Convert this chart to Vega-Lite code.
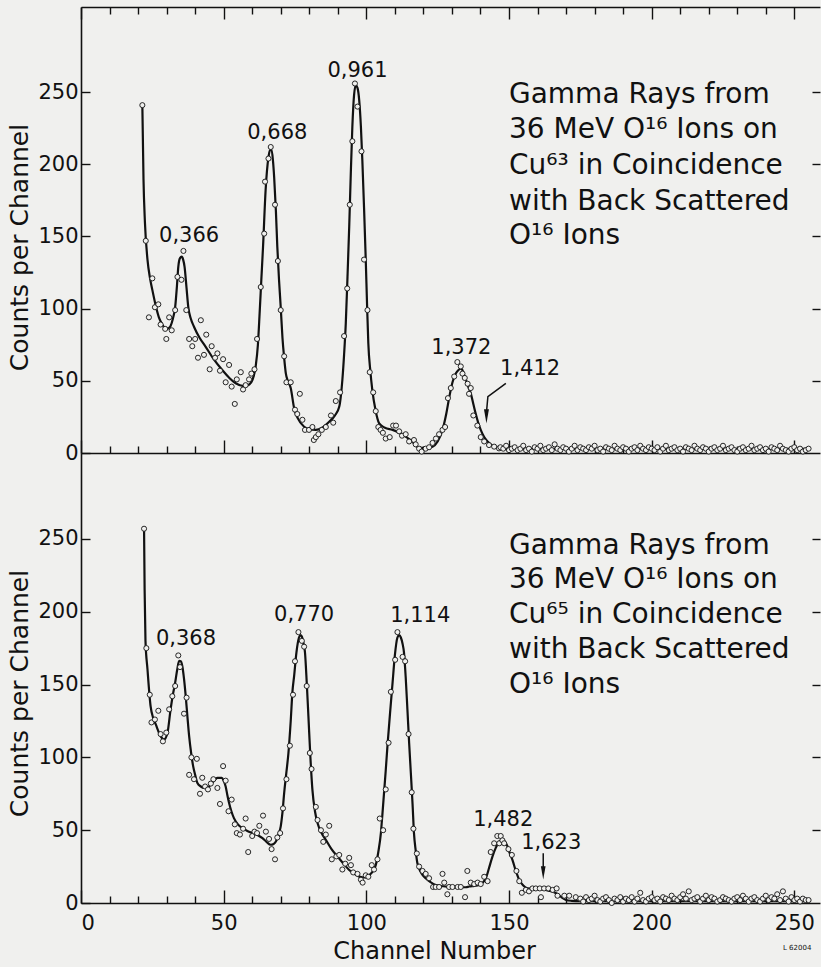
{
  "$schema": "https://vega.github.io/schema/vega-lite/v6.json",
  "background": "#f0f0ee",
  "padding": {"left": 7, "top": 6, "right": 0, "bottom": 5},
  "config": {
    "view": {"stroke": null},
    "axis": {"domainColor": "#111", "domainWidth": 1.6, "tickColor": "#111", "tickWidth": 1.4, "labelFont": "DejaVu Sans", "titleFont": "DejaVu Sans", "labelColor": "#111", "titleColor": "#111", "titleFontWeight": "normal", "grid": false, "labelFontSize": 21},
    "text": {"font": "DejaVu Sans", "color": "#111"}
  },
  "datasets": {
    "top_line": [
      {"ch":21.5,"v":241},{"ch":21.9,"v":190},{"ch":22.4,"v":160},{"ch":23.3,"v":134},{"ch":24.2,"v":121},{"ch":25,"v":113},{"ch":26.2,"v":102},{"ch":27.3,"v":94},{"ch":28.5,"v":89},{"ch":29.7,"v":86},{"ch":30.7,"v":86.5},{"ch":31.4,"v":88},{"ch":32.2,"v":93},{"ch":33,"v":101},{"ch":33.6,"v":115},{"ch":34.1,"v":129},{"ch":34.7,"v":135},{"ch":35.3,"v":136},{"ch":35.8,"v":134},{"ch":36.3,"v":129},{"ch":37,"v":114},{"ch":37.6,"v":101},{"ch":38.5,"v":93},{"ch":39.6,"v":87.5},{"ch":41.5,"v":80},{"ch":43.7,"v":73.6},{"ch":46.5,"v":65},{"ch":49.5,"v":57.5},{"ch":52,"v":52},{"ch":54.2,"v":48.3},{"ch":57.1,"v":46.4},{"ch":59,"v":47.5},{"ch":60.1,"v":50.6},{"ch":61.2,"v":59.8},{"ch":62,"v":75},{"ch":62.6,"v":96.7},{"ch":63.2,"v":120},{"ch":63.8,"v":142.9},{"ch":64.7,"v":182},{"ch":65.7,"v":205},{"ch":66.3,"v":210},{"ch":66.8,"v":210},{"ch":67.3,"v":202},{"ch":67.7,"v":191},{"ch":68.3,"v":168},{"ch":68.8,"v":143},{"ch":69.4,"v":120},{"ch":70,"v":101},{"ch":70.6,"v":80},{"ch":71.2,"v":66},{"ch":71.8,"v":55},{"ch":72.5,"v":50},{"ch":73.5,"v":45},{"ch":74.7,"v":31},{"ch":76,"v":24},{"ch":78.2,"v":18.2},{"ch":80,"v":16.5},{"ch":82.3,"v":16},{"ch":84.5,"v":17.5},{"ch":87,"v":21.7},{"ch":89,"v":26},{"ch":90.5,"v":32},{"ch":91.1,"v":40},{"ch":91.6,"v":50.6},{"ch":92.2,"v":68},{"ch":92.8,"v":89.8},{"ch":93.4,"v":122},{"ch":94,"v":156.7},{"ch":94.5,"v":190},{"ch":95.1,"v":226},{"ch":95.7,"v":248},{"ch":96.3,"v":254.8},{"ch":96.9,"v":253},{"ch":97.5,"v":244.5},{"ch":98.1,"v":226},{"ch":98.6,"v":203},{"ch":99.2,"v":170},{"ch":99.8,"v":133.7},{"ch":100.3,"v":100},{"ch":100.7,"v":76},{"ch":101.4,"v":57},{"ch":102.1,"v":43.6},{"ch":103.2,"v":30},{"ch":104.5,"v":20.5},{"ch":106.5,"v":17.5},{"ch":109.2,"v":16},{"ch":111.5,"v":14},{"ch":113.8,"v":11.3},{"ch":116,"v":8},{"ch":118.5,"v":3.5},{"ch":121,"v":3.5},{"ch":123.2,"v":4.4},{"ch":125,"v":8},{"ch":126.7,"v":16},{"ch":128,"v":27},{"ch":129.1,"v":39},{"ch":130.2,"v":49},{"ch":131.4,"v":55.2},{"ch":132.3,"v":57.5},{"ch":133.3,"v":58.6},{"ch":134.1,"v":55},{"ch":134.9,"v":50.6},{"ch":135.7,"v":46},{"ch":136.6,"v":41.3},{"ch":137.5,"v":34},{"ch":138.3,"v":27.5},{"ch":139.2,"v":21},{"ch":140.1,"v":16},{"ch":141.3,"v":11},{"ch":142.5,"v":7.9},{"ch":144.5,"v":4.5},{"ch":146.5,"v":3.2},{"ch":150,"v":2.8},{"ch":180,"v":2.8},{"ch":220,"v":2.8},{"ch":255,"v":2.8}
    ],
    "top_pts": [
      {"ch":21.5,"v":241},{"ch":22.7,"v":147},{"ch":23.8,"v":94},{"ch":25,"v":121},{"ch":25.9,"v":101},{"ch":27.1,"v":103},{"ch":27.9,"v":89},{"ch":29.5,"v":86},{"ch":29.9,"v":79},{"ch":30.9,"v":94},{"ch":31.8,"v":85},{"ch":33,"v":99},{"ch":33.8,"v":122},{"ch":35.2,"v":120},{"ch":35.9,"v":140},{"ch":36.9,"v":99},{"ch":37.9,"v":79},{"ch":39,"v":74},{"ch":40,"v":79},{"ch":41,"v":66},{"ch":42,"v":92},{"ch":43.1,"v":68},{"ch":43.9,"v":82},{"ch":45.1,"v":58},{"ch":45.8,"v":74},{"ch":47,"v":66},{"ch":47.8,"v":69},{"ch":48.7,"v":57},{"ch":49.8,"v":65},{"ch":50.7,"v":49},{"ch":51.9,"v":61},{"ch":52.8,"v":46},{"ch":53.9,"v":34},{"ch":54.6,"v":51},{"ch":56,"v":56},{"ch":56.8,"v":44},{"ch":57.7,"v":47},{"ch":58.9,"v":51},{"ch":59.7,"v":55},{"ch":60.8,"v":58},{"ch":61.7,"v":79},{"ch":63,"v":115},{"ch":64.2,"v":152},{"ch":64.5,"v":188},{"ch":65.7,"v":204},{"ch":66.5,"v":212},{"ch":68,"v":172},{"ch":69,"v":133},{"ch":70,"v":99},{"ch":71.2,"v":67},{"ch":72,"v":49},{"ch":73.5,"v":49},{"ch":75,"v":30},{"ch":75.8,"v":27},{"ch":76.7,"v":41},{"ch":77.6,"v":23},{"ch":78.5,"v":16},{"ch":79.9,"v":16},{"ch":81.1,"v":18},{"ch":81.6,"v":9},{"ch":82.3,"v":11},{"ch":83.2,"v":13},{"ch":84.4,"v":16},{"ch":85.8,"v":18},{"ch":87.6,"v":26},{"ch":88.4,"v":21},{"ch":89.3,"v":36},{"ch":90.8,"v":42},{"ch":92.2,"v":81},{"ch":93.3,"v":114},{"ch":94.2,"v":172},{"ch":95.1,"v":216},{"ch":96,"v":256},{"ch":96.9,"v":240},{"ch":98.3,"v":209},{"ch":99.2,"v":134},{"ch":100.4,"v":99},{"ch":101.2,"v":56},{"ch":102.4,"v":42},{"ch":103.3,"v":29},{"ch":104.2,"v":18},{"ch":105,"v":16},{"ch":105.8,"v":14},{"ch":106.8,"v":10},{"ch":108.2,"v":11},{"ch":109.4,"v":19},{"ch":110.4,"v":19},{"ch":111.5,"v":15},{"ch":112.5,"v":12},{"ch":113.8,"v":13},{"ch":115,"v":8},{"ch":116.7,"v":9},{"ch":117.3,"v":6},{"ch":118.5,"v":3},{"ch":119.4,"v":1},{"ch":120.8,"v":3},{"ch":122,"v":4},{"ch":123.2,"v":7},{"ch":124.4,"v":10},{"ch":125.5,"v":13},{"ch":126.7,"v":16},{"ch":127.6,"v":18},{"ch":128.6,"v":38},{"ch":129.6,"v":45},{"ch":130.8,"v":53},{"ch":131.9,"v":63},{"ch":133.1,"v":60},{"ch":133.7,"v":55},{"ch":134.5,"v":52},{"ch":135.5,"v":48},{"ch":136,"v":41},{"ch":136.6,"v":45},{"ch":137.5,"v":26},{"ch":138.9,"v":19},{"ch":140.1,"v":11},{"ch":141.3,"v":8},{"ch":143,"v":5.5},{"ch":144.8,"v":4.4},{"ch":146.5,"v":3.2},
      {"ch":147,"v":4},{"ch":148,"v":3},{"ch":149,"v":5},{"ch":150,"v":2},{"ch":151,"v":3},{"ch":152,"v":4},{"ch":153,"v":2},{"ch":154,"v":3},{"ch":155,"v":5},{"ch":156,"v":2},{"ch":157,"v":3},{"ch":158,"v":1},{"ch":159,"v":4},{"ch":160,"v":3},{"ch":161,"v":5},{"ch":162,"v":2},{"ch":163,"v":3},{"ch":164,"v":4},{"ch":165,"v":2},{"ch":166,"v":6},{"ch":167,"v":3},{"ch":168,"v":2},{"ch":169,"v":4},{"ch":170,"v":3},{"ch":171,"v":1},{"ch":172,"v":3},{"ch":173,"v":5},{"ch":174,"v":2},{"ch":175,"v":4},{"ch":176,"v":3},{"ch":177,"v":2},{"ch":178,"v":4},{"ch":179,"v":3},{"ch":180,"v":5},{"ch":181,"v":2},{"ch":182,"v":3},{"ch":183,"v":1},{"ch":184,"v":4},{"ch":185,"v":3},{"ch":186,"v":2},{"ch":187,"v":5},{"ch":188,"v":3},{"ch":189,"v":2},{"ch":190,"v":4},{"ch":191,"v":3},{"ch":192,"v":1},{"ch":193,"v":3},{"ch":194,"v":4},{"ch":195,"v":2},{"ch":196,"v":5},{"ch":197,"v":3},{"ch":198,"v":2},{"ch":199,"v":4},{"ch":200,"v":3},{"ch":201,"v":2},{"ch":202,"v":4},{"ch":203,"v":1},{"ch":204,"v":3},{"ch":205,"v":5},{"ch":206,"v":2},{"ch":207,"v":3},{"ch":208,"v":4},{"ch":209,"v":2},{"ch":210,"v":3},{"ch":211,"v":1},{"ch":212,"v":4},{"ch":213,"v":3},{"ch":214,"v":2},{"ch":215,"v":5},{"ch":216,"v":3},{"ch":217,"v":2},{"ch":218,"v":4},{"ch":219,"v":3},{"ch":220,"v":1},{"ch":221,"v":3},{"ch":222,"v":4},{"ch":223,"v":2},{"ch":224,"v":3},{"ch":225,"v":5},{"ch":226,"v":2},{"ch":227,"v":3},{"ch":228,"v":4},{"ch":229,"v":2},{"ch":230,"v":1},{"ch":231,"v":3},{"ch":232,"v":4},{"ch":233,"v":2},{"ch":234,"v":3},{"ch":235,"v":5},{"ch":236,"v":2},{"ch":237,"v":3},{"ch":238,"v":4},{"ch":239,"v":2},{"ch":240,"v":3},{"ch":241,"v":1},{"ch":242,"v":4},{"ch":243,"v":3},{"ch":244,"v":2},{"ch":245,"v":5},{"ch":246,"v":3},{"ch":247,"v":2},{"ch":248,"v":1},{"ch":249,"v":3},{"ch":250,"v":4},{"ch":251,"v":2},{"ch":252,"v":3},{"ch":253,"v":1},{"ch":254,"v":2},{"ch":255,"v":3}
    ],
    "bot_line": [
      {"ch":22.1,"v":257},{"ch":22.3,"v":215},{"ch":22.6,"v":180},{"ch":23.3,"v":160.5},{"ch":24.4,"v":135},{"ch":25.3,"v":127},{"ch":26.2,"v":122.6},{"ch":27.9,"v":114.6},{"ch":29.1,"v":112.3},{"ch":30.3,"v":116.8},{"ch":31.4,"v":133},{"ch":32.2,"v":143},{"ch":33,"v":151.3},{"ch":33.7,"v":160},{"ch":34.4,"v":166.2},{"ch":35,"v":166},{"ch":35.5,"v":162.7},{"ch":36.1,"v":154},{"ch":36.7,"v":142},{"ch":37.3,"v":128},{"ch":37.9,"v":114.6},{"ch":38.6,"v":103},{"ch":39.3,"v":94},{"ch":40,"v":88},{"ch":40.8,"v":82.4},{"ch":42,"v":80},{"ch":43.1,"v":79},{"ch":44.5,"v":79.5},{"ch":46,"v":82.4},{"ch":47.8,"v":85.9},{"ch":49.3,"v":85.9},{"ch":50,"v":84},{"ch":50.7,"v":80},{"ch":51.3,"v":74},{"ch":51.9,"v":68.6},{"ch":52.7,"v":63},{"ch":53.6,"v":58.3},{"ch":55,"v":54},{"ch":56.6,"v":51.4},{"ch":58.3,"v":49.5},{"ch":60.1,"v":48},{"ch":62,"v":46.5},{"ch":63.6,"v":44.5},{"ch":65,"v":42},{"ch":66.5,"v":40},{"ch":67.5,"v":40.5},{"ch":68.3,"v":42.2},{"ch":69.4,"v":48},{"ch":70,"v":52.6},{"ch":70.6,"v":62},{"ch":71.2,"v":75.5},{"ch":72,"v":90},{"ch":72.7,"v":103},{"ch":73.5,"v":125},{"ch":74.1,"v":145},{"ch":74.7,"v":156},{"ch":75.5,"v":172},{"ch":76.4,"v":182.3},{"ch":76.9,"v":184},{"ch":77.4,"v":183},{"ch":78,"v":178},{"ch":78.5,"v":172},{"ch":79.1,"v":152},{"ch":79.7,"v":128.3},{"ch":80.4,"v":100},{"ch":81.1,"v":77.8},{"ch":82,"v":63},{"ch":82.9,"v":54.9},{"ch":84.3,"v":48},{"ch":85.8,"v":43.4},{"ch":87.8,"v":37},{"ch":89.9,"v":31.9},{"ch":92,"v":27},{"ch":94,"v":22.7},{"ch":95.8,"v":20},{"ch":97.5,"v":18.1},{"ch":99,"v":17.5},{"ch":100.4,"v":18.1},{"ch":101.5,"v":20},{"ch":102.5,"v":22.5},{"ch":103.3,"v":26},{"ch":104.2,"v":35},{"ch":105.1,"v":48},{"ch":105.6,"v":60},{"ch":106.2,"v":75.5},{"ch":106.8,"v":91},{"ch":107.4,"v":107.7},{"ch":108.3,"v":130},{"ch":109.2,"v":151.3},{"ch":110,"v":170},{"ch":110.9,"v":182.3},{"ch":111.5,"v":184},{"ch":112.1,"v":182.3},{"ch":112.7,"v":178},{"ch":113.2,"v":172},{"ch":113.8,"v":155},{"ch":114.4,"v":132.9},{"ch":115,"v":110},{"ch":115.6,"v":89.3},{"ch":116.2,"v":68},{"ch":116.7,"v":48},{"ch":117.3,"v":36},{"ch":117.9,"v":27.3},{"ch":119.3,"v":20.5},{"ch":120.8,"v":17},{"ch":122.5,"v":14.3},{"ch":124.3,"v":12.4},{"ch":127,"v":11.5},{"ch":130.2,"v":10.8},{"ch":134.9,"v":10.8},{"ch":136,"v":11.3},{"ch":137.8,"v":11.8},{"ch":139.5,"v":12.4},{"ch":140.8,"v":14},{"ch":141.9,"v":17},{"ch":143,"v":24},{"ch":144.2,"v":31.9},{"ch":145.4,"v":38},{"ch":146.6,"v":42.2},{"ch":147.7,"v":43.4},{"ch":148.6,"v":42},{"ch":149.5,"v":38.8},{"ch":150.3,"v":34},{"ch":151.2,"v":29.6},{"ch":152.4,"v":22},{"ch":153.6,"v":15.8},{"ch":155,"v":12},{"ch":156.5,"v":10.1},{"ch":159,"v":9.6},{"ch":161.8,"v":9.4},{"ch":164,"v":8.5},{"ch":166.5,"v":6.7},{"ch":168,"v":4.5},{"ch":170,"v":2.1},{"ch":172,"v":1.5},{"ch":175,"v":1.2},{"ch":200,"v":1.2},{"ch":230,"v":1.2},{"ch":255,"v":1.2}
    ],
    "bot_pts": [
      {"ch":22.1,"v":257},{"ch":22.9,"v":175},{"ch":24.1,"v":143},{"ch":24.7,"v":124},{"ch":25.9,"v":126},{"ch":27.1,"v":132},{"ch":27.9,"v":116},{"ch":28.7,"v":111},{"ch":29.9,"v":117},{"ch":30.9,"v":133},{"ch":32,"v":142},{"ch":33,"v":149},{"ch":34.1,"v":170},{"ch":34.7,"v":162},{"ch":36.1,"v":130},{"ch":37,"v":141},{"ch":37.9,"v":88},{"ch":38.7,"v":100},{"ch":39.6,"v":85},{"ch":40.6,"v":99},{"ch":41.7,"v":75},{"ch":42.5,"v":86},{"ch":43.5,"v":80},{"ch":44.5,"v":78},{"ch":45.5,"v":82},{"ch":46.4,"v":85},{"ch":47.8,"v":79},{"ch":48.7,"v":68},{"ch":49.8,"v":94},{"ch":50.7,"v":84},{"ch":51.7,"v":63},{"ch":52.8,"v":71},{"ch":53.9,"v":54},{"ch":54.6,"v":48},{"ch":55.7,"v":47},{"ch":56.8,"v":51},{"ch":57.7,"v":58},{"ch":58.6,"v":35},{"ch":60,"v":46},{"ch":60.8,"v":49},{"ch":61.7,"v":48},{"ch":62.5,"v":53},{"ch":63.8,"v":60},{"ch":64.8,"v":49},{"ch":65.9,"v":44},{"ch":66.8,"v":37},{"ch":68,"v":30},{"ch":68.8,"v":45},{"ch":69.8,"v":48},{"ch":70.8,"v":65},{"ch":72,"v":85},{"ch":73.2,"v":108},{"ch":74.3,"v":143},{"ch":75,"v":166},{"ch":76.2,"v":186},{"ch":77.4,"v":180},{"ch":78.2,"v":176},{"ch":79.1,"v":149},{"ch":80.2,"v":103},{"ch":80.8,"v":92},{"ch":82.3,"v":66},{"ch":82.9,"v":57},{"ch":84.1,"v":50},{"ch":84.9,"v":42},{"ch":85.8,"v":47},{"ch":87,"v":53},{"ch":87.9,"v":30},{"ch":89.5,"v":32},{"ch":90.5,"v":33},{"ch":91.6,"v":23},{"ch":92.6,"v":27},{"ch":94,"v":31},{"ch":94.6,"v":26},{"ch":95.4,"v":21},{"ch":96.9,"v":20},{"ch":98.1,"v":16},{"ch":98.7,"v":14},{"ch":99.8,"v":19},{"ch":100.7,"v":18},{"ch":101.9,"v":26},{"ch":102.7,"v":23},{"ch":103.9,"v":30},{"ch":104.7,"v":58},{"ch":105.9,"v":50},{"ch":106.8,"v":78},{"ch":107.8,"v":110},{"ch":108.6,"v":145},{"ch":110.1,"v":167},{"ch":110.9,"v":186},{"ch":112.7,"v":169},{"ch":113.6,"v":166},{"ch":114.8,"v":116},{"ch":115.9,"v":76},{"ch":116.5,"v":51},{"ch":117.7,"v":34},{"ch":118.5,"v":25},{"ch":119.7,"v":22},{"ch":120.8,"v":20},{"ch":122,"v":17},{"ch":123.4,"v":11},{"ch":124.3,"v":11},{"ch":125.5,"v":11},{"ch":126.7,"v":20},{"ch":127.3,"v":14},{"ch":128.4,"v":6},{"ch":129,"v":11},{"ch":130.2,"v":11},{"ch":132,"v":11},{"ch":133.1,"v":11},{"ch":134.6,"v":4},{"ch":135.4,"v":22},{"ch":136.6,"v":14},{"ch":137.8,"v":13},{"ch":139,"v":14},{"ch":140.1,"v":13},{"ch":141.3,"v":18},{"ch":142.5,"v":15},{"ch":143.6,"v":35},{"ch":144.8,"v":41},{"ch":145.9,"v":46},{"ch":146.6,"v":41},{"ch":147.1,"v":46},{"ch":147.7,"v":43},{"ch":148.3,"v":41},{"ch":149.8,"v":37},{"ch":151,"v":33},{"ch":152.6,"v":22},{"ch":153.6,"v":15},{"ch":154.5,"v":7},{"ch":155.9,"v":9},{"ch":157,"v":8},{"ch":158.2,"v":10},{"ch":159.4,"v":10},{"ch":160.8,"v":10},{"ch":161.2,"v":4},{"ch":162.3,"v":10},{"ch":163.8,"v":10},{"ch":165.3,"v":9},{"ch":166.7,"v":10},{"ch":167,"v":5},{"ch":169.4,"v":5},{"ch":171.1,"v":5},{"ch":173.4,"v":4},
      {"ch":175,"v":3},{"ch":176,"v":1},{"ch":177,"v":4},{"ch":178,"v":2},{"ch":179,"v":3},{"ch":180,"v":5},{"ch":181,"v":2},{"ch":182,"v":1},{"ch":183,"v":3},{"ch":184,"v":4},{"ch":185,"v":2},{"ch":186,"v":0},{"ch":187,"v":3},{"ch":188,"v":2},{"ch":189,"v":4},{"ch":190,"v":1},{"ch":191,"v":3},{"ch":192,"v":2},{"ch":193,"v":4},{"ch":194,"v":1},{"ch":195,"v":3},{"ch":196,"v":7},{"ch":197,"v":2},{"ch":198,"v":1},{"ch":199,"v":3},{"ch":200,"v":4},{"ch":201,"v":2},{"ch":202,"v":3},{"ch":203,"v":1},{"ch":204,"v":4},{"ch":205,"v":3},{"ch":206,"v":2},{"ch":207,"v":5},{"ch":208,"v":3},{"ch":209,"v":2},{"ch":210,"v":4},{"ch":211,"v":6},{"ch":212,"v":3},{"ch":213,"v":8},{"ch":214,"v":2},{"ch":215,"v":3},{"ch":216,"v":4},{"ch":217,"v":1},{"ch":218,"v":3},{"ch":219,"v":5},{"ch":220,"v":2},{"ch":221,"v":4},{"ch":222,"v":3},{"ch":223,"v":1},{"ch":224,"v":2},{"ch":225,"v":4},{"ch":226,"v":3},{"ch":227,"v":2},{"ch":228,"v":1},{"ch":229,"v":3},{"ch":230,"v":4},{"ch":231,"v":2},{"ch":232,"v":5},{"ch":233,"v":3},{"ch":234,"v":1},{"ch":235,"v":3},{"ch":236,"v":4},{"ch":237,"v":2},{"ch":238,"v":1},{"ch":239,"v":3},{"ch":240,"v":5},{"ch":241,"v":2},{"ch":242,"v":4},{"ch":243,"v":3},{"ch":244,"v":6},{"ch":245,"v":2},{"ch":246,"v":8},{"ch":247,"v":3},{"ch":248,"v":1},{"ch":249,"v":4},{"ch":250,"v":2},{"ch":251,"v":3},{"ch":252,"v":1},{"ch":253,"v":3},{"ch":254,"v":2},{"ch":255,"v":2}
    ],
    "top_lab": [
      {"ch":37.9,"v":150,"t":"0,366"},{"ch":68.8,"v":222,"t":"0,668"},{"ch":96.9,"v":265,"t":"0,961"},{"ch":133.3,"v":73,"t":"1,372"},{"ch":157.4,"v":58,"t":"1,412"}
    ],
    "bot_lab": [
      {"ch":36.8,"v":181,"t":"0,368"},{"ch":78.2,"v":198,"t":"0,770"},{"ch":118.9,"v":197,"t":"1,114"},{"ch":148,"v":57,"t":"1,482"},{"ch":164.8,"v":41,"t":"1,623"}
    ],
    "top_note": [
      {"ch":150,"v":248,"t":"Gamma Rays from"},{"ch":150,"v":224,"t":"36 MeV  O¹⁶ Ions on"},{"ch":150,"v":199,"t":"Cu⁶³ in Coincidence"},{"ch":150,"v":174,"t":"with Back Scattered"},{"ch":150,"v":150,"t":"O¹⁶ Ions"}
    ],
    "bot_note": [
      {"ch":150,"v":245,"t":"Gamma Rays from"},{"ch":150,"v":222,"t":"36 MeV  O¹⁶ Ions on"},{"ch":150,"v":198,"t":"Cu⁶⁵ in Coincidence"},{"ch":150,"v":174,"t":"with Back Scattered"},{"ch":150,"v":150,"t":"O¹⁶ Ions"}
    ],
    "top_arrow": [{"ch":148.9,"v":48.3},{"ch":142.6,"v":39},{"ch":142.1,"v":28}],
    "top_head": [{"ch":142.1,"v":25.4}],
    "bot_arrow": [{"ch":162,"v":34.2},{"ch":162,"v":23}],
    "bot_head": [{"ch":162,"v":20.7}],
    "code": [{"ch":251,"v":-31,"t":"L 62004"}]
  },
  "vconcat": [
    {
      "width": 739,
      "height": 446,
      "layer": [
        {
          "data": {"name": "top_line"},
          "mark": {"type": "line", "color": "#111", "strokeWidth": 2.2, "interpolate": "monotone"},
          "encoding": {
            "x": {"field": "ch", "type": "quantitative", "scale": {"domain": [0, 259], "nice": false}, "axis": {"orient": "bottom", "values": [0,10,20,30,40,50,60,70,80,90,100,110,120,130,140,150,160,170,180,190,200,210,220,230,240,250], "labels": false, "title": null, "tickSize": {"condition": {"test": "datum.value % 50 === 0", "value": -13}, "value": -7}}},
            "y": {"field": "v", "type": "quantitative", "scale": {"domain": [0, 309], "nice": false}, "axis": {"orient": "left", "values": [0,50,100,150,200,250], "tickSize": -9, "labelPadding": 12, "title": "Counts per Channel", "titleFontSize": 25, "titlePadding": 5, "titleY": 240}}
          }
        },
        {
          "data": {"name": "top_pts"},
          "mark": {"type": "point", "shape": "circle", "size": 26, "stroke": "#111", "strokeWidth": 0.9, "fill": "#f0f0ee", "filled": false, "fillOpacity": 1},
          "encoding": {
            "x": {"field": "ch", "type": "quantitative", "scale": {"domain": [0, 259], "nice": false}, "axis": {"orient": "top", "values": [0,10,20,30,40,50,60,70,80,90,100,110,120,130,140,150,160,170,180,190,200,210,220,230,240,250], "labels": false, "title": null, "tickSize": {"condition": {"test": "datum.value % 50 === 0", "value": -12}, "value": -7}}},
            "y": {"field": "v", "type": "quantitative", "scale": {"domain": [0, 309], "nice": false}, "axis": {"orient": "right", "values": [50,100,150,200,250], "labels": false, "title": null, "domain": false, "tickSize": -8}}
          }
        },
        {
          "data": {"name": "top_lab"},
          "mark": {"type": "text", "fontSize": 21, "align": "center", "baseline": "middle"},
          "encoding": {
            "x": {"field": "ch", "type": "quantitative", "scale": {"domain": [0, 259], "nice": false}, "axis": null},
            "y": {"field": "v", "type": "quantitative", "scale": {"domain": [0, 309], "nice": false}, "axis": null},
            "text": {"field": "t"}
          }
        },
        {
          "data": {"name": "top_note"},
          "mark": {"type": "text", "fontSize": 28, "align": "left", "baseline": "middle"},
          "encoding": {
            "x": {"field": "ch", "type": "quantitative", "scale": {"domain": [0, 259], "nice": false}, "axis": null},
            "y": {"field": "v", "type": "quantitative", "scale": {"domain": [0, 309], "nice": false}, "axis": null},
            "text": {"field": "t"}
          }
        },
        {
          "data": {"name": "top_arrow"},
          "mark": {"type": "line", "color": "#111", "strokeWidth": 1.5},
          "encoding": {
            "x": {"field": "ch", "type": "quantitative", "scale": {"domain": [0, 259], "nice": false}, "axis": null},
            "y": {"field": "v", "type": "quantitative", "scale": {"domain": [0, 309], "nice": false}, "axis": null}
          }
        },
        {
          "data": {"name": "top_head"},
          "mark": {"type": "point", "shape": "M-0.35,-1L0.35,-1L0,1Z", "size": 200, "filled": true, "color": "#111", "opacity": 1},
          "encoding": {
            "x": {"field": "ch", "type": "quantitative", "scale": {"domain": [0, 259], "nice": false}, "axis": null},
            "y": {"field": "v", "type": "quantitative", "scale": {"domain": [0, 309], "nice": false}, "axis": null}
          }
        }
      ],
      "resolve": {"axis": {"x": "independent", "y": "independent"}}
    },
    {
      "width": 739,
      "height": 450,
      "layer": [
        {
          "data": {"name": "bot_line"},
          "mark": {"type": "line", "color": "#111", "strokeWidth": 2.2, "interpolate": "monotone"},
          "encoding": {
            "x": {"field": "ch", "type": "quantitative", "scale": {"domain": [0, 259], "nice": false}, "axis": {"orient": "bottom", "values": [0,10,20,30,40,50,60,70,80,90,100,110,120,130,140,150,160,170,180,190,200,210,220,230,240,250], "labelExpr": "datum.value % 50 === 0 ? datum.label : ''", "labelPadding": 22, "title": "Channel Number", "titleFontSize": 24, "titlePadding": 6, "titleX": 353, "tickSize": {"condition": {"test": "datum.value % 50 === 0", "value": -13}, "value": -7}}},
            "y": {"field": "v", "type": "quantitative", "scale": {"domain": [0, 309], "nice": false}, "axis": {"orient": "left", "values": [0,50,100,150,200,250], "tickSize": -9, "labelPadding": 12, "title": "Counts per Channel", "titleFontSize": 25, "titlePadding": 5, "titleY": 240}}
          }
        },
        {
          "data": {"name": "bot_pts"},
          "mark": {"type": "point", "shape": "circle", "size": 26, "stroke": "#111", "strokeWidth": 0.9, "fill": "#f0f0ee", "filled": false, "fillOpacity": 1},
          "encoding": {
            "x": {"field": "ch", "type": "quantitative", "scale": {"domain": [0, 259], "nice": false}, "axis": null},
            "y": {"field": "v", "type": "quantitative", "scale": {"domain": [0, 309], "nice": false}, "axis": {"orient": "right", "values": [50,100,150,200,250], "labels": false, "title": null, "domain": false, "tickSize": -8}}
          }
        },
        {
          "data": {"name": "bot_lab"},
          "mark": {"type": "text", "fontSize": 21, "align": "center", "baseline": "middle"},
          "encoding": {
            "x": {"field": "ch", "type": "quantitative", "scale": {"domain": [0, 259], "nice": false}, "axis": null},
            "y": {"field": "v", "type": "quantitative", "scale": {"domain": [0, 309], "nice": false}, "axis": null},
            "text": {"field": "t"}
          }
        },
        {
          "data": {"name": "bot_note"},
          "mark": {"type": "text", "fontSize": 28, "align": "left", "baseline": "middle"},
          "encoding": {
            "x": {"field": "ch", "type": "quantitative", "scale": {"domain": [0, 259], "nice": false}, "axis": null},
            "y": {"field": "v", "type": "quantitative", "scale": {"domain": [0, 309], "nice": false}, "axis": null},
            "text": {"field": "t"}
          }
        },
        {
          "data": {"name": "bot_arrow"},
          "mark": {"type": "line", "color": "#111", "strokeWidth": 1.5},
          "encoding": {
            "x": {"field": "ch", "type": "quantitative", "scale": {"domain": [0, 259], "nice": false}, "axis": null},
            "y": {"field": "v", "type": "quantitative", "scale": {"domain": [0, 309], "nice": false}, "axis": null}
          }
        },
        {
          "data": {"name": "bot_head"},
          "mark": {"type": "point", "shape": "M-0.35,-1L0.35,-1L0,1Z", "size": 180, "filled": true, "color": "#111", "opacity": 1},
          "encoding": {
            "x": {"field": "ch", "type": "quantitative", "scale": {"domain": [0, 259], "nice": false}, "axis": null},
            "y": {"field": "v", "type": "quantitative", "scale": {"domain": [0, 309], "nice": false}, "axis": null}
          }
        },
        {
          "data": {"name": "code"},
          "mark": {"type": "text", "fontSize": 7, "align": "center", "baseline": "middle"},
          "encoding": {
            "x": {"field": "ch", "type": "quantitative", "scale": {"domain": [0, 259], "nice": false}, "axis": null},
            "y": {"field": "v", "type": "quantitative", "scale": {"domain": [0, 309], "nice": false}, "axis": null},
            "text": {"field": "t"}
          }
        }
      ],
      "resolve": {"axis": {"x": "independent", "y": "independent"}}
    }
  ],
  "spacing": 0,
  "bounds": "flush"
}
